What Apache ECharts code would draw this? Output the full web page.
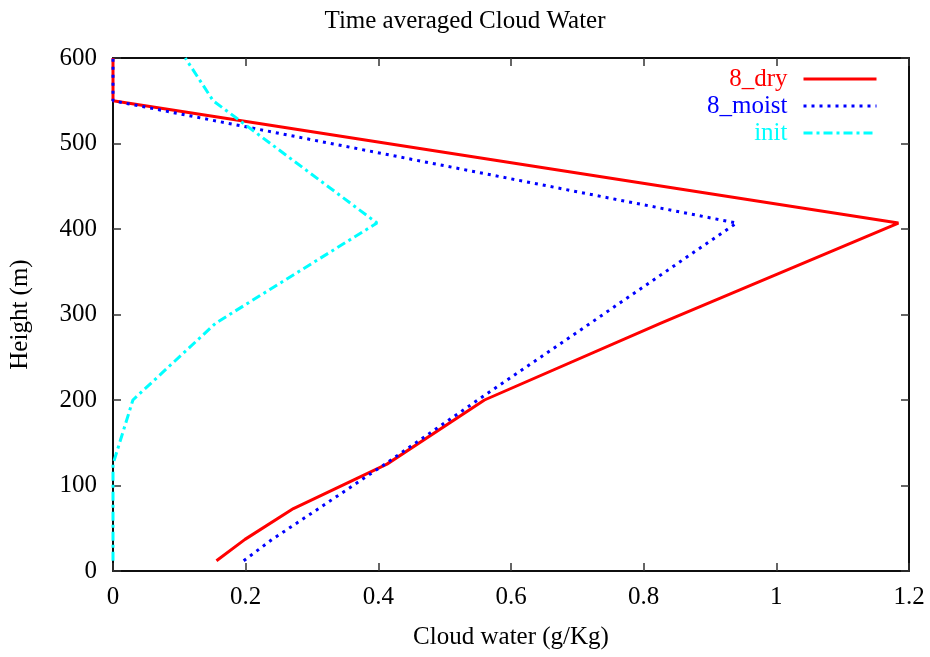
<!DOCTYPE html>
<html>
<head>
<meta charset="UTF-8">
<title>Time averaged Cloud Water</title>
<style>
    html, body {margin: 0; padding: 0; background: #fff;}
    #chart {width: 930px; height: 657px;}
</style>
</head>
<body>
<div id="chart"></div>
<script src="https://cdn.jsdelivr.net/npm/echarts@6/dist/echarts.min.js"></script>
<script>
// heights of the model levels (m)
const heights = [12, 37, 73, 125, 200, 290, 407, 550, 600];
// cloud water (g/Kg) at each level
const dry   = [0.156, 0.199, 0.272, 0.413, 0.560, 0.826, 1.184, 0, 0];
const moist = [0.197, 0.240, 0.310, 0.410, 0.550, 0.720, 0.940, 0, 0];
const init  = [0, 0, 0, 0, 0.030, 0.155, 0.398, 0.151, 0.109];

const font = 'Liberation Serif';
const fs = 25;

function pairs(xs) {
    return xs.map((x, i) => [x, heights[i]]);
}

const chart = echarts.init(document.getElementById('chart'));

const axisLine = {show: true, onZero: false, lineStyle: {color: '#000', width: 1.5}};
const tick = {show: true, inside: true, length: 8, lineStyle: {color: '#333', width: 1.5}};

chart.setOption({
    animation: false,
    backgroundColor: '#fff',
    title: {
        text: 'Time averaged Cloud Water',
        left: 'center',
        top: 4,
        textStyle: {fontFamily: font, fontSize: fs, fontWeight: 'normal', color: '#000'}
    },
    legend: {
        orient: 'vertical',
        right: 47,
        top: 61,
        align: 'right',
        itemWidth: 73,
        itemHeight: 14,
        itemGap: 1,
        itemStyle: {color: 'transparent', borderWidth: 0},
        lineStyle: {width: 3},
        textStyle: {fontFamily: font, fontSize: fs, lineHeight: 26, padding: [0, 11, 0, 0]},
        data: [
            {name: '8_dry', textStyle: {color: '#ff0000'}},
            {name: '8_moist', textStyle: {color: '#0000ff'}},
            {name: 'init', textStyle: {color: '#00ffff'}}
        ]
    },
    grid: {left: 113, right: 21, top: 58, bottom: 86, show: true, borderColor: '#000', borderWidth: 1.5},
    xAxis: [{
        type: 'value',
        min: 0, max: 1.2, interval: 0.2,
        name: 'Cloud water (g/Kg)',
        nameLocation: 'middle',
        nameGap: 54,
        nameTextStyle: {fontFamily: font, fontSize: fs, color: '#000'},
        axisLine: axisLine,
        axisTick: tick,
        splitLine: {show: false},
        axisLabel: {
            fontFamily: font, fontSize: fs, color: '#000', margin: 14,
            formatter: v => String(+v.toFixed(1))
        }
    }, {
        type: 'value',
        position: 'top',
        min: 0, max: 1.2, interval: 0.2,
        axisLine: axisLine,
        axisTick: tick,
        splitLine: {show: false},
        axisLabel: {show: false}
    }],
    yAxis: [{
        type: 'value',
        min: 0, max: 600, interval: 100,
        name: 'Height (m)',
        nameLocation: 'middle',
        nameGap: 80,
        nameRotate: 90,
        nameTextStyle: {fontFamily: font, fontSize: fs, color: '#000'},
        axisLine: axisLine,
        axisTick: tick,
        splitLine: {show: false},
        axisLabel: {fontFamily: font, fontSize: fs, color: '#000', margin: 16}
    }, {
        type: 'value',
        position: 'right',
        min: 0, max: 600, interval: 100,
        axisLine: axisLine,
        axisTick: tick,
        splitLine: {show: false},
        axisLabel: {show: false}
    }],
    series: [{
        name: '8_dry',
        type: 'line',
        symbol: 'none',
        data: pairs(dry),
        itemStyle: {color: '#ff0000'},
        lineStyle: {color: '#ff0000', width: 3}
    }, {
        name: '8_moist',
        type: 'line',
        symbol: 'none',
        data: pairs(moist),
        itemStyle: {color: '#0000ff'},
        lineStyle: {color: '#0000ff', width: 3, type: [3, 5]}
    }, {
        name: 'init',
        type: 'line',
        symbol: 'none',
        data: pairs(init),
        itemStyle: {color: '#00ffff'},
        lineStyle: {color: '#00ffff', width: 3, type: [9, 4, 3, 4]}
    }, {
        // empty series so the mirrored top/right axes are drawn
        type: 'line',
        xAxisIndex: 1,
        yAxisIndex: 1,
        symbol: 'none',
        silent: true,
        data: []
    }]
});
</script>
</body>
</html>
